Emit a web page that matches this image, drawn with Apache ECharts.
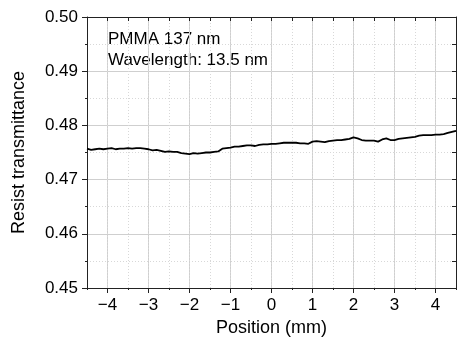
<!DOCTYPE html>
<html><head><meta charset="utf-8">
<script src="https://cdn.jsdelivr.net/npm/echarts@6/dist/echarts.min.js"></script>
<style>html,body{margin:0;padding:0;background:#fff}#c{width:457px;height:339px}</style>
</head><body><div id="c"></div>
<script>
var positions = [-4.5,-4.4,-4.3,-4.2,-4.1,-4.0,-3.9,-3.8,-3.7,-3.6,-3.5,-3.4,-3.3,-3.2,-3.1,-3.0,-2.9,-2.8,-2.7,-2.6,-2.5,-2.4,-2.3,-2.2,-2.1,-2.0,-1.9,-1.8,-1.7,-1.6,-1.5,-1.4,-1.3,-1.2,-1.1,-1.0,-0.9,-0.8,-0.7,-0.6,-0.5,-0.4,-0.3,-0.2,-0.1,0.0,0.1,0.2,0.3,0.4,0.5,0.6,0.7,0.8,0.9,1.0,1.1,1.2,1.3,1.4,1.5,1.6,1.7,1.8,1.9,2.0,2.1,2.2,2.3,2.4,2.5,2.6,2.7,2.8,2.9,3.0,3.1,3.2,3.3,3.4,3.5,3.6,3.7,3.8,3.9,4.0,4.1,4.2,4.3,4.4,4.5];
var transmittance = [0.4757,0.4755,0.4756,0.4757,0.4756,0.4757,0.4758,0.4756,0.4757,0.4757,0.4758,0.4757,0.4758,0.4758,0.4757,0.4756,0.4754,0.4755,0.4753,0.4751,0.4752,0.4751,0.4751,0.4749,0.4748,0.4747,0.4749,0.4748,0.4749,0.4750,0.4750,0.4751,0.4752,0.4757,0.4758,0.4759,0.4761,0.4761,0.4762,0.4763,0.4763,0.4762,0.4764,0.4765,0.4765,0.4766,0.4766,0.4767,0.4768,0.4768,0.4768,0.4768,0.4767,0.4767,0.4766,0.4770,0.4771,0.4770,0.4769,0.4771,0.4772,0.4773,0.4773,0.4774,0.4775,0.4778,0.4776,0.4773,0.4772,0.4772,0.4772,0.4770,0.4774,0.4776,0.4773,0.4773,0.4775,0.4776,0.4777,0.4778,0.4779,0.4781,0.4782,0.4782,0.4782,0.4783,0.4783,0.4784,0.4786,0.4788,0.4790];
var xTickValues = [-4,-3,-2,-1,0,1,2,3,4];
var xTickLabels = ['\u22124','\u22123','\u22122','\u22121','0','1','2','3','4'];
var yTickLabels = ['0.45','0.46','0.47','0.48','0.49','0.50'];
var annotations = ['PMMA 137 nm','Wavelength: 13.5 nm'];

var FONT = 'Liberation Sans, Arial, sans-serif';
var AX = '#222';
var chart = echarts.init(document.getElementById('c'), null, {renderer:'canvas'});
var gridRect = {left:87, right:1, top:17, bottom:51, containLabel:false, outerBoundsMode:'none'};
function xLabel(v){
  var i = xTickValues.indexOf(Math.round(v));
  if (Math.abs(v - Math.round(v)) > 1e-6 || i < 0) return '';
  return xTickLabels[i];
}
function yLabel(v){
  var i = Math.round((v - 0.45) / 0.01);
  if (Math.abs(v - (0.45 + i*0.01)) > 1e-6) return '';
  return yTickLabels[i] || '';
}
var data = positions.map(function(p,i){return [p, transmittance[i]];});
chart.setOption({
  animation:false,
  backgroundColor:'#fff',
  grid:[Object.assign({}, gridRect), Object.assign({}, gridRect)],
  xAxis:[
    {type:'value', gridIndex:0, position:'bottom', min:-4.5, max:4.5, interval:0.5,
     axisLine:{show:true, onZero:false, lineStyle:{color:AX, width:1}},
     axisTick:{show:true, inside:false, length:5, lineStyle:{color:AX}, customValues:xTickValues},
     axisLabel:{show:true, margin:9, color:'#000', fontFamily:FONT, fontSize:17, formatter:xLabel, customValues:xTickValues},
     splitLine:{show:true, lineStyle:{color:'#cfcfcf', width:1}},
     name:'Position (mm)', nameLocation:'middle', nameGap:31,
     nameTextStyle:{color:'#000', fontFamily:FONT, fontSize:18}},
    {type:'value', gridIndex:0, position:'top', min:-4.5, max:4.5, interval:0.5,
     axisLine:{show:true, onZero:false, lineStyle:{color:AX, width:1}},
     axisTick:{show:true, inside:true, length:4, lineStyle:{color:AX}},
     axisLabel:{show:false}, splitLine:{show:false}},
    {type:'value', gridIndex:1, position:'bottom', min:-4.5, max:4.5, interval:0.5,
     axisLine:{show:false, onZero:false},
     axisTick:{show:true, inside:false, length:2, lineStyle:{color:AX}},
     axisLabel:{show:false},
     splitLine:{show:true, lineStyle:{color:'#d8d8d8', width:1, type:[1,2]}}}
  ],
  yAxis:[
    {type:'value', gridIndex:0, position:'left', min:0.45, max:0.50, interval:0.01,
     axisLine:{show:true, onZero:false, lineStyle:{color:AX, width:1}},
     axisTick:{show:true, inside:false, length:5, lineStyle:{color:AX}},
     minorTick:{show:true, splitNumber:2, length:2, lineStyle:{color:AX}},
     axisLabel:{show:true, margin:9, color:'#000', fontFamily:FONT, fontSize:17, formatter:yLabel},
     splitLine:{show:true, lineStyle:{color:'#cfcfcf', width:1}},
     minorSplitLine:{show:true, lineStyle:{color:'#d8d8d8', width:1, type:[1,2]}},
     name:'Resist transmittance', nameLocation:'middle', nameGap:59,
     nameTextStyle:{color:'#000', fontFamily:FONT, fontSize:18}},
    {type:'value', gridIndex:0, position:'right', min:0.45, max:0.50, interval:0.005,
     axisLine:{show:true, onZero:false, lineStyle:{color:AX, width:1}},
     axisTick:{show:true, inside:true, length:4, lineStyle:{color:AX}},
     axisLabel:{show:false}, splitLine:{show:false}},
    {type:'value', gridIndex:1, position:'left', min:0.45, max:0.50, interval:0.01,
     show:false}
  ],
  graphic:[
    {type:'text', left:108, top:31, style:{text:annotations[0], fill:'#000', font:'17px ' + FONT}},
    {type:'text', left:108, top:52, style:{text:annotations[1], fill:'#000', font:'17px ' + FONT}}
  ],
  series:[
    {type:'line', xAxisIndex:0, yAxisIndex:0, data:data, showSymbol:false, symbol:'none',
     lineStyle:{color:'#000', width:1.8}, z:5}
  ]
});
</script></body></html>
